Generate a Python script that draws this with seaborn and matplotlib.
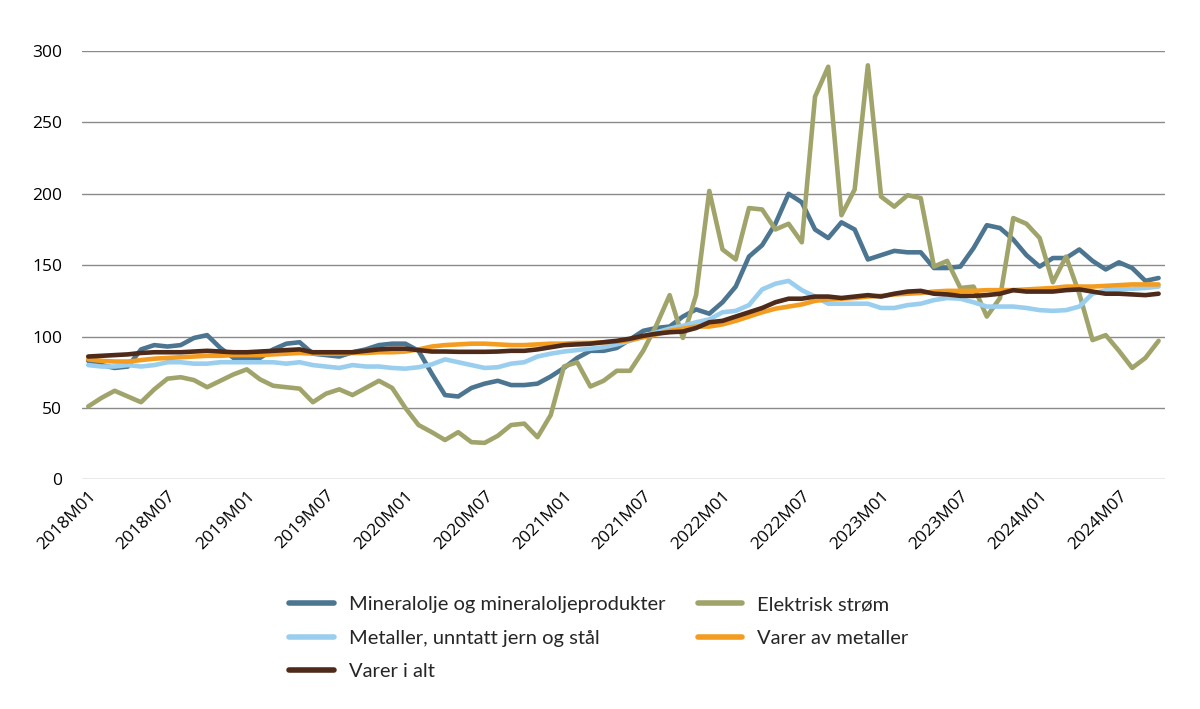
import pandas as pd
import seaborn as sns
import matplotlib.pyplot as plt

# monthly index values, 2018M01 - 2024M10
months = [f'{y}M{m:02d}' for y in range(2018, 2025) for m in range(1, 13)][:82]

mineralolje = [83, 80, 78, 79, 91, 94, 93, 94, 99, 101, 92, 85, 85, 85, 91, 95, 96, 88, 87, 86,
               89, 91, 94, 95, 95, 90, 74, 59, 58, 64, 67, 69, 66, 66, 67, 72, 78, 85, 90, 90,
               92, 98, 104, 106, 107, 114, 119, 116, 124, 135, 156, 164, 179, 200, 194, 175, 169, 180, 175, 154,
               157, 160, 159, 159, 148, 148, 149, 162, 178, 176, 168, 157, 149, 155, 155, 161, 153, 147, 152, 148,
               139, 141]
elektrisk = [51, 57, 62, 58, 54, 63, 70.5, 71.5, 69.5, 64.5, 69, 73.5, 77, 70, 65.5, 64.5, 63.5, 54, 60, 63,
             59, 64, 69, 64, 50, 38, 33, 27.5, 33, 26, 25.5, 30.5, 38, 39, 29.5, 45, 79, 82, 65, 69,
             76, 76, 90, 108, 129, 99, 129, 202, 161, 154, 190, 189, 175, 179, 166, 268, 289, 185, 203, 290,
             198, 191, 199, 197, 149, 153, 134, 135, 114, 127, 183, 179, 169, 138, 156, 130, 97.5, 101, 90, 78,
             85, 97]
metaller = [80, 79, 79, 80, 79, 80, 82, 82, 81, 81, 82, 82, 82, 82, 82, 81, 82, 80, 79, 78,
            80, 79, 79, 78, 77.5, 78.5, 80.5, 84, 82, 80, 78, 78.5, 81, 82, 86, 88, 89.5, 90.5, 91.5, 92.5,
            94.5, 97, 100, 103, 105.5, 107.5, 110, 112, 117, 118, 122, 133, 137, 139, 132.5, 128, 123, 123, 123, 123,
            120, 120, 122, 123, 125.5, 127, 126.5, 124, 121, 121, 121, 120, 118.5, 118, 118.5, 121, 130, 132.5, 133, 133.5,
            134, 135]
varer_metaller = [84, 83, 82.5, 82.5, 83.5, 84.5, 85, 85.5, 86, 86.5, 86.5, 87, 87, 87, 87.5, 88, 88.5, 88, 88, 88,
                  88.5, 88.5, 89, 89, 89.5, 91, 93, 94, 94.5, 95, 95, 94.5, 94, 94, 94.5, 95, 95, 95.5, 95.5, 96,
                  96.5, 97.5, 99.5, 101.5, 104, 105.5, 107, 107, 108.5, 111, 114, 117, 119.5, 121, 122.5, 125, 126, 126.5, 127, 128,
                  128.5, 129.5, 130, 130.5, 131.5, 132, 132, 132, 132.5, 132.5, 132.5, 133, 133.5, 134, 135, 135, 135, 135.5, 136, 136.5,
                  136.5, 136.5]
varer_i_alt = [86, 86.5, 87, 87.5, 88.5, 89, 89, 89, 89.5, 90, 89.5, 89, 89, 89.5, 90, 90.5, 91, 89, 89, 89,
               89, 90, 91, 91.5, 91.5, 90.5, 89.5, 89.5, 89.3, 89.3, 89.3, 89.5, 90, 90, 91, 92.5, 94, 94.5, 95, 96,
               97, 98.5, 100.5, 102, 103, 103.5, 106, 110, 111, 114, 117, 120, 124, 126.5, 126.5, 128, 128, 127, 128, 129,
               128, 130, 131.5, 132, 130, 129.5, 128.5, 128.5, 129, 130, 132.5, 131.5, 131.5, 131.5, 132.5, 133, 131.5, 130, 130, 129.5,
               129, 130]

series = {
    'Mineralolje og mineraloljeprodukter': mineralolje,
    'Elektrisk strøm': elektrisk,
    'Metaller, unntatt jern og stål': metaller,
    'Varer av metaller': varer_metaller,
    'Varer i alt': varer_i_alt,
}
colors = ['#4B7590', '#A1A46A', '#9ACEEE', '#F39C1F', '#4E2A1B']

rows = []
for name, vals in series.items():
    for i, v in enumerate(vals):
        rows.append([i, v, name])
df = pd.DataFrame(rows, columns=['idx', 'value', 'serie'])

sns.set_style('white')
plt.rcParams['font.family'] = ['Open Sans', 'DejaVu Sans']

fig = plt.figure(figsize=(12, 7.09), dpi=100)
ax = fig.add_axes([0.068, 0.324, 0.903, 0.604])

sns.lineplot(data=df, x='idx', y='value', hue='serie', palette=colors,
             linewidth=3.3, ax=ax, legend=False)

ax.set_xlim(-0.5, len(months) - 0.5)
ax.set_ylim(0, 300)
ax.set_yticks(range(0, 301, 50))
ax.set_xticks(range(0, len(months), 6))
ax.set_xticklabels(months[::6], rotation=45, ha='right', va='top', rotation_mode='anchor')
ax.tick_params(axis='both', length=0, labelsize=12.5, colors='black')
ax.tick_params(axis='y', pad=14)
ax.tick_params(axis='x', pad=6)
ax.set_xlabel('')
ax.set_ylabel('')
ax.yaxis.grid(True, color='#8a8a8a', linewidth=1.0)
ax.set_axisbelow(True)
for s in ax.spines.values():
    s.set_visible(False)

# legend, two columns, filled column-wise
handles = [plt.Line2D([], [], color=c, linewidth=4, solid_capstyle='round') for c in colors]
names = list(series.keys())
order = [0, 2, 4, 1, 3]
fig.legend([handles[k] for k in order], [names[k] for k in order],
           loc='center', bbox_to_anchor=(0.499, 0.100), ncol=2, frameon=False,
           prop={'family': ['Lato', 'DejaVu Sans'], 'size': 14.5},
           handlelength=2.2, handletextpad=0.75, columnspacing=1.6,
           labelspacing=0.82)

plt.savefig('out.png', dpi=100)
